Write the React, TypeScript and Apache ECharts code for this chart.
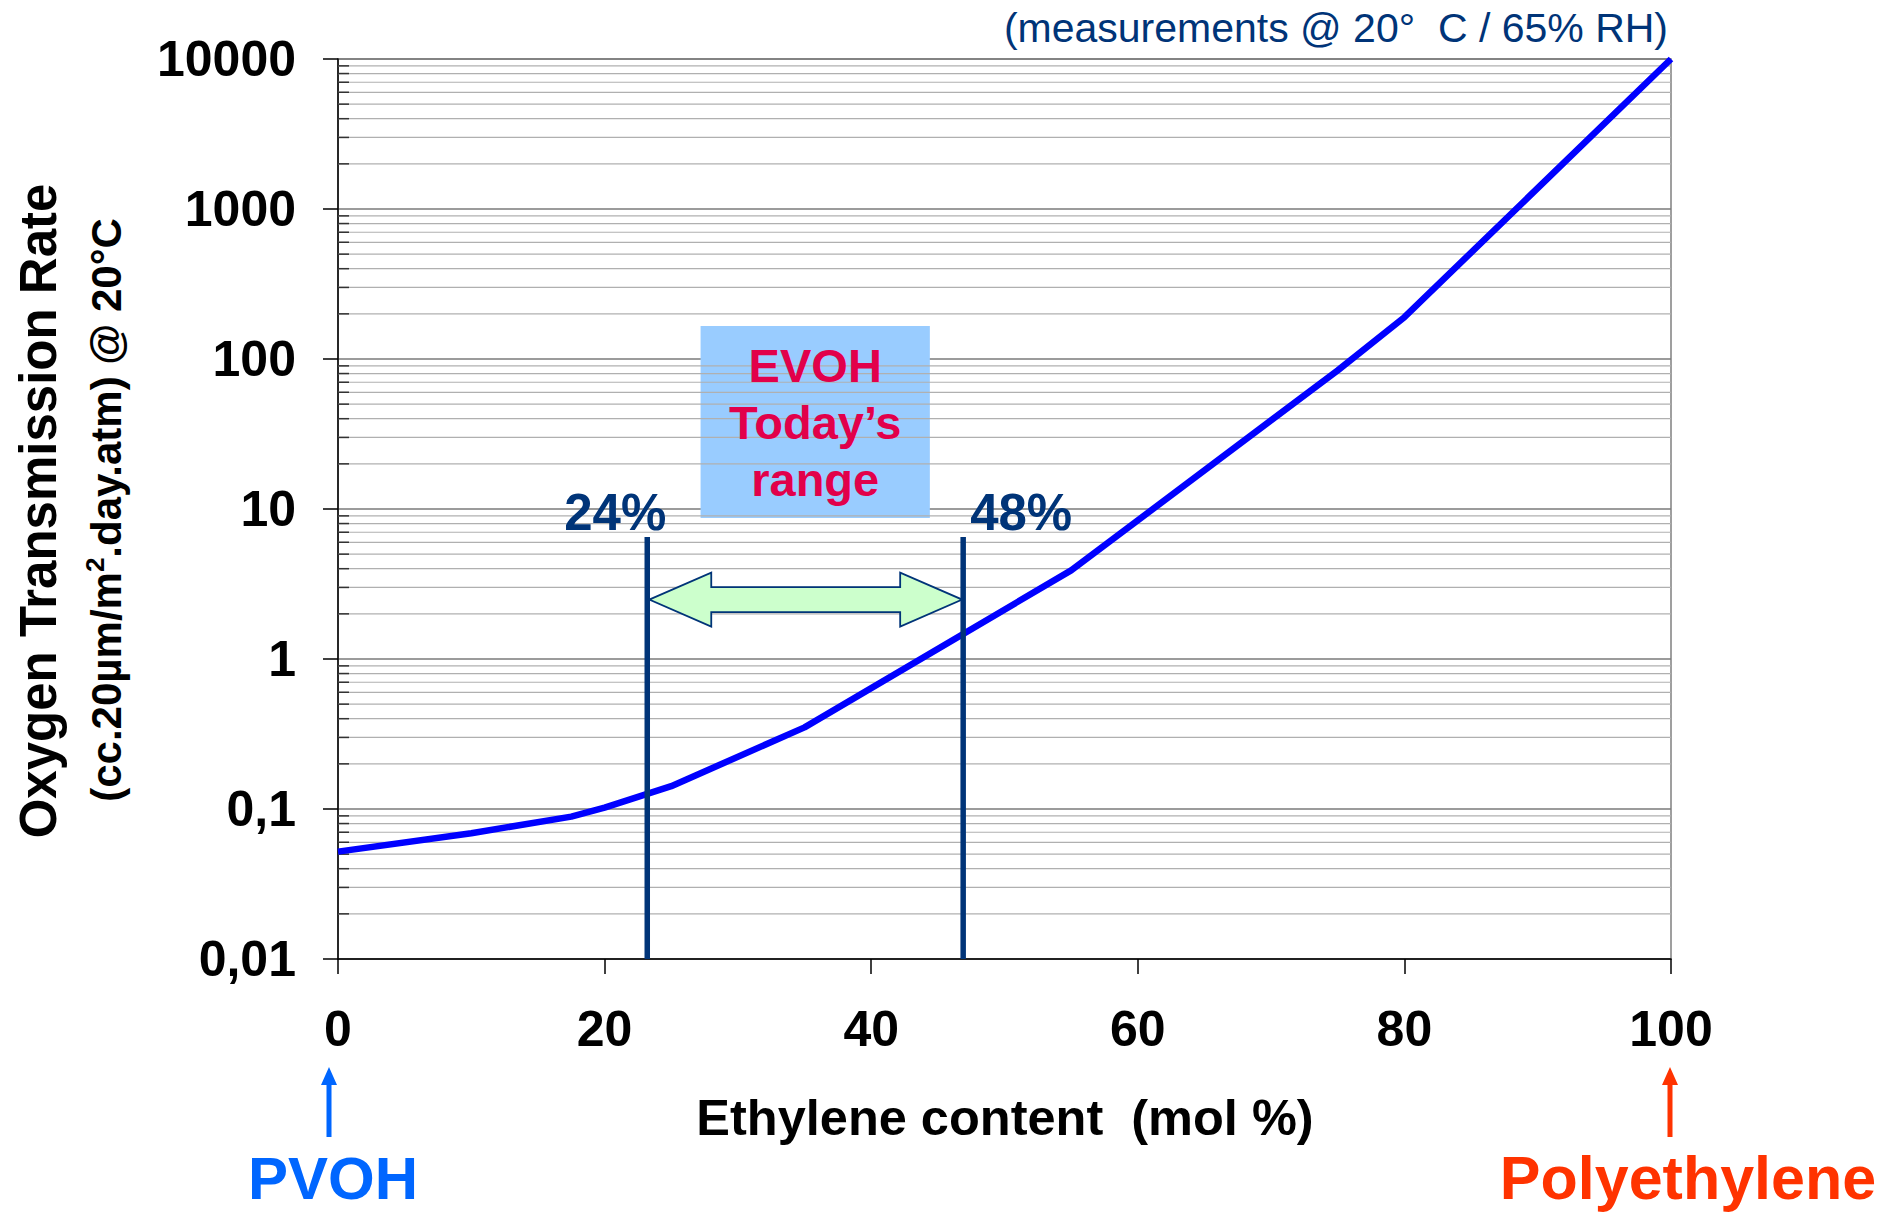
import React, { useEffect, useRef } from 'react';
import * as echarts from 'echarts';

// ---- data ----
const ethylene = [0, 10, 17.5, 20, 25, 35, 55, 75, 80, 100];
const otr = [0.052, 0.069, 0.089, 0.102, 0.142, 0.35, 3.9, 84, 190, 10000];
const xTickLabels = ['0', '20', '40', '60', '80', '100'];
const yTickLabels = ['0,01', '0,1', '1', '10', '100', '1000', '10000'];
const decades = [0.01, 0.1, 1, 10, 100, 1000];
const minorMultipliers = [2, 3, 4, 5, 6, 7, 8, 9];
const rangeBounds = [23.2, 46.9];
const rangeLabels = ['24%', '48%'];
const rangeLineTop = 6.5;
const arrowLevel = 2.49;
const evohBoxX = [27.2, 44.4];
const evohBoxY = [8.7, 166];
const evohText = 'EVOH\nToday\u2019s\nrange';

const FONT = '"Liberation Sans", Arial, Helvetica, sans-serif';
const NAVY = '#003478';

export default function App() {
  const ref = useRef<HTMLDivElement>(null);

  useEffect(() => {
    if (!ref.current) return;
    const chart = echarts.init(ref.current, undefined, { renderer: 'svg' });

    const minorValues: number[] = [];
    decades.forEach((d) => minorMultipliers.forEach((m) => minorValues.push(Number((d * m).toPrecision(3)))));

    const lineData = ethylene.map((x, i) => [x, otr[i]]);

    const option: any = {
      animation: false,
      backgroundColor: '#ffffff',
      textStyle: { fontFamily: FONT },
      grid: {
        left: 338,
        right: 228,
        top: 59,
        bottom: 253,
        show: true,
        borderColor: '#808080',
        borderWidth: 1.5,
        backgroundColor: 'transparent',
      },
      xAxis: {
        type: 'value',
        min: 0,
        max: 100,
        interval: 20,
        axisLine: { show: true, lineStyle: { color: '#000', width: 1.5 } },
        axisTick: { show: true, length: 15, lineStyle: { color: '#000', width: 1.5 } },
        splitLine: { show: false },
        axisLabel: {
          margin: 45,
          color: '#000',
          fontSize: 50,
          fontWeight: 'bold',
          fontFamily: FONT,
          formatter: (v: number) => xTickLabels[Math.round(v / 20)] ?? '',
        },
      },
      yAxis: {
        type: 'log',
        logBase: 10,
        min: 0.01,
        max: 10000,
        splitNumber: 6,
        axisLine: { show: true, lineStyle: { color: '#000', width: 1.5 } },
        axisTick: { show: true, length: 15, lineStyle: { color: '#000', width: 1.5 } },
        splitLine: { show: true, lineStyle: { color: '#7a7a7a', width: 1.5 } },
        axisLabel: {
          margin: 42,
          color: '#000',
          fontSize: 50,
          fontWeight: 'bold',
          fontFamily: FONT,
          formatter: (v: number) => yTickLabels[Math.round(Math.log10(v)) + 2] ?? '',
        },
      },
      series: [
        {
          // minor gridlines + inner minor ticks
          type: 'custom',
          z: 1,
          silent: true,
          data: minorValues.map((v) => [0, v]),
          renderItem: (params: any, api: any) => {
            const v = api.value(1);
            const p0 = api.coord([0, v]);
            const p1 = api.coord([100, v]);
            return {
              type: 'group',
              children: [
                { type: 'line', shape: { x1: p0[0], y1: p0[1], x2: p1[0], y2: p1[1] }, style: { stroke: '#b0b0b0', lineWidth: 1.2 } },
                { type: 'line', shape: { x1: p0[0], y1: p0[1], x2: p0[0] + 11, y2: p0[1] }, style: { stroke: '#333', lineWidth: 1.5 } },
              ],
            };
          },
        },
        {
          type: 'line',
          z: 3,
          data: lineData,
          showSymbol: false,
          symbol: 'none',
          lineStyle: { color: '#0000ff', width: 6.5 },
          markArea: {
            silent: true,
            itemStyle: { color: '#99ccff', opacity: 1 },
            label: {
              show: true,
              position: 'inside',
              formatter: evohText,
              color: '#e2004a',
              fontSize: 47,
              fontWeight: 'bold',
              lineHeight: 57,
              fontFamily: FONT,
            },
            data: [[{ coord: [evohBoxX[0], evohBoxY[1]] }, { coord: [evohBoxX[1], evohBoxY[0]] }]],
          },
        },
        {
          // double arrow between the range lines
          type: 'custom',
          z: 4,
          silent: true,
          encode: { x: [0, 1], y: 2 },
          data: [[rangeBounds[0], rangeBounds[1], arrowLevel]],
          renderItem: (params: any, api: any) => {
            const l = api.coord([api.value(0), api.value(2)]);
            const r = api.coord([api.value(1), api.value(2)]);
            const c = l[1];
            const L = l[0] + 2;
            const R = r[0] - 1;
            const hl = 62, hh = 27, sh = 12.5;
            return {
              type: 'polygon',
              shape: {
                points: [
                  [L, c], [L + hl, c - hh], [L + hl, c - sh], [R - hl, c - sh], [R - hl, c - hh],
                  [R, c], [R - hl, c + hh], [R - hl, c + sh], [L + hl, c + sh], [L + hl, c + hh],
                ],
              },
              style: { fill: '#ccffcc', stroke: NAVY, lineWidth: 1.8 },
            };
          },
        },
        {
          // range boundary lines with labels
          type: 'custom',
          z: 5,
          silent: true,
          data: rangeBounds.map((b) => [b, rangeLineTop]),
          renderItem: (params: any, api: any) => {
            const x = api.value(0);
            const top = api.coord([x, api.value(1)]);
            const bot = api.coord([x, 0.01]);
            const dx = params.dataIndex === 0 ? -32 : 58;
            return {
              type: 'group',
              children: [
                { type: 'line', shape: { x1: top[0], y1: top[1], x2: bot[0], y2: bot[1] }, style: { stroke: NAVY, lineWidth: 5.5 } },
                {
                  type: 'text',
                  x: top[0] + dx,
                  y: top[1] - 25,
                  style: {
                    text: rangeLabels[params.dataIndex],
                    fill: NAVY,
                    font: `bold 51px ${FONT}`,
                    align: 'center',
                    verticalAlign: 'middle',
                  },
                },
              ],
            };
          },
        },
      ],
      graphic: [
        {
          type: 'text',
          x: 1668,
          y: 28,
          style: {
            text: '(measurements @ 20\u00b0  C / 65% RH)',
            fill: NAVY,
            font: `41px ${FONT}`,
            align: 'right',
            verticalAlign: 'middle',
          },
        },
        {
          type: 'text',
          x: 38,
          y: 511,
          rotation: Math.PI / 2,
          style: {
            text: 'Oxygen Transmission Rate',
            fill: '#000',
            font: `bold 51px ${FONT}`,
            align: 'center',
            verticalAlign: 'middle',
          },
        },
        {
          type: 'text',
          x: 106,
          y: 510,
          rotation: Math.PI / 2,
          style: {
            text: '{a|(cc.20\u00b5m/m}{s|2}{a|.day.atm) @ 20\u00b0C}',
            align: 'center',
            verticalAlign: 'middle',
            rich: {
              a: { fontSize: 42, fontWeight: 'bold', fontFamily: FONT, fill: '#000', color: '#000', lineHeight: 48 },
              s: { fontSize: 26, fontWeight: 'bold', fontFamily: FONT, fill: '#000', color: '#000', lineHeight: 48, verticalAlign: 'top' },
            },
          },
        },
        {
          type: 'text',
          x: 1005,
          y: 1117,
          style: {
            text: 'Ethylene content  (mol %)',
            fill: '#000',
            font: `bold 50.5px ${FONT}`,
            align: 'center',
            verticalAlign: 'middle',
          },
        },
        {
          type: 'text',
          x: 333,
          y: 1178,
          style: { text: 'PVOH', fill: '#0066ff', font: `bold 60px ${FONT}`, align: 'center', verticalAlign: 'middle' },
        },
        {
          type: 'text',
          x: 1688,
          y: 1178,
          style: { text: 'Polyethylene', fill: '#ff3300', font: `bold 61px ${FONT}`, align: 'center', verticalAlign: 'middle' },
        },
        {
          type: 'polygon',
          shape: {
            points: [[329, 1067], [337, 1085], [331.5, 1085], [331.5, 1137], [326.5, 1137], [326.5, 1085], [321, 1085]],
          },
          style: { fill: '#0066ff' },
        },
        {
          type: 'polygon',
          shape: {
            points: [[1670, 1067], [1678, 1085], [1672.5, 1085], [1672.5, 1137], [1667.5, 1137], [1667.5, 1085], [1662, 1085]],
          },
          style: { fill: '#ff3300' },
        },
      ],
    };

    chart.setOption(option);
    return () => chart.dispose();
  }, []);

  return <div ref={ref} style={{ position: 'fixed', left: 0, top: 0, width: 1899, height: 1212, background: '#fff' }} />;
}
